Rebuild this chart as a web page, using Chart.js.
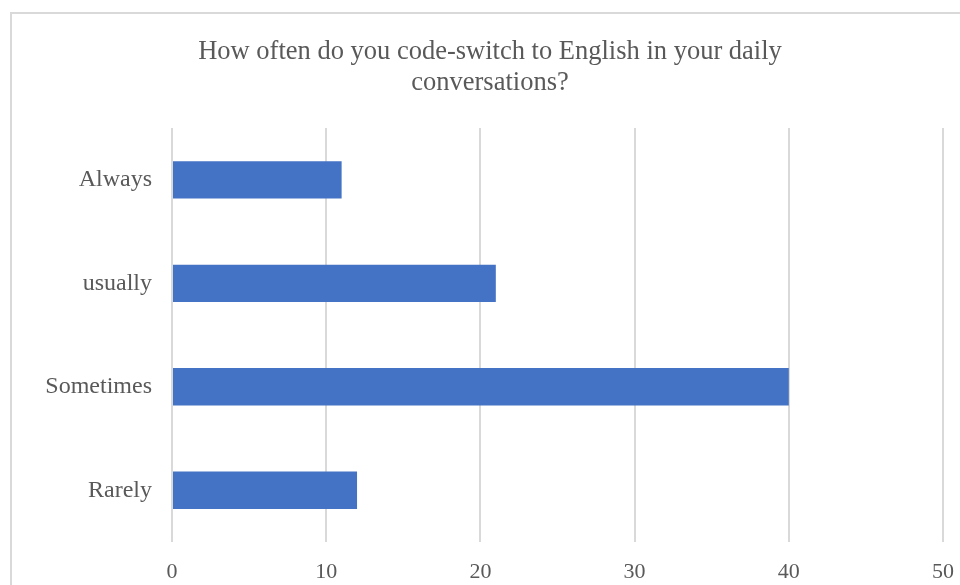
<!DOCTYPE html>
<html>
<head>
<meta charset="utf-8">
<script src="https://cdn.jsdelivr.net/npm/chart.js@4.4.0/dist/chart.umd.min.js"></script>
<style>
  html, body { margin: 0; padding: 0; background: #fff; overflow: hidden; }
  #frame {
    position: absolute; left: 10px; top: 12px;
    width: 970px; height: 600px;
    border: 2px solid #d9d9d9; border-right: none; border-bottom: none;
  }
  #chart { position: absolute; left: 0; top: 0; }
</style>
</head>
<body>
<div id="frame"><canvas id="chart" width="960" height="571"></canvas></div>
<script>
var categories = ["Always", "usually", "Sometimes", "Rarely"];
var counts = [11, 21, 40, 12];
var xTicks = [0, 10, 20, 30, 40, 50];
var titleLines = ["How often do you code-switch to English in your daily", "conversations?"];

var serif = "'Liberation Serif', 'Times New Roman', serif";
var grey = "#595959";

var ctx = document.getElementById("chart").getContext("2d");
var chart = new Chart(ctx, {
  type: "bar",
  data: {
    labels: categories,
    datasets: [
      {
        label: "Count",
        data: counts,
        backgroundColor: "#4472c4",
        borderWidth: 0,
        categoryPercentage: 1,
        barPercentage: 0.36,
      },
    ],
  },
  options: {
    indexAxis: "y",
    responsive: false,
    animation: false,
    layout: { padding: { left: 0, right: 4, top: 0, bottom: 0 } },
    plugins: {
      legend: { display: false },
      tooltip: { enabled: false },
      title: {
        display: true,
        text: titleLines,
        color: grey,
        font: { family: serif, size: 26.5, weight: "normal", lineHeight: 1.17 },
        padding: { top: 23, bottom: 29 },
      },
    },
    scales: {
      x: {
        min: 0,
        max: 50,
        afterBuildTicks: function (axis) {
          axis.ticks = xTicks.map(function (v) { return { value: v }; });
        },
        afterFit: function (axis) { axis.height = 43; },
        grid: { color: "#d9d9d9", lineWidth: 2, drawTicks: false },
        border: { display: false },
        ticks: { color: grey, padding: 17, font: { family: serif, size: 22 } },
      },
      y: {
        afterFit: function (axis) { axis.width = 160; },
        grid: { display: false },
        border: { display: false },
        ticks: { color: grey, padding: 12, font: { family: serif, size: 24 } },
      },
      // empty right-hand axis, only to keep the plot area off the right edge
      yRight: {
        position: "right",
        afterFit: function (axis) { axis.width = 25; },
        grid: { display: false },
        border: { display: false },
        ticks: { display: false },
      },
    },
  },
});
</script>
</body>
</html>
